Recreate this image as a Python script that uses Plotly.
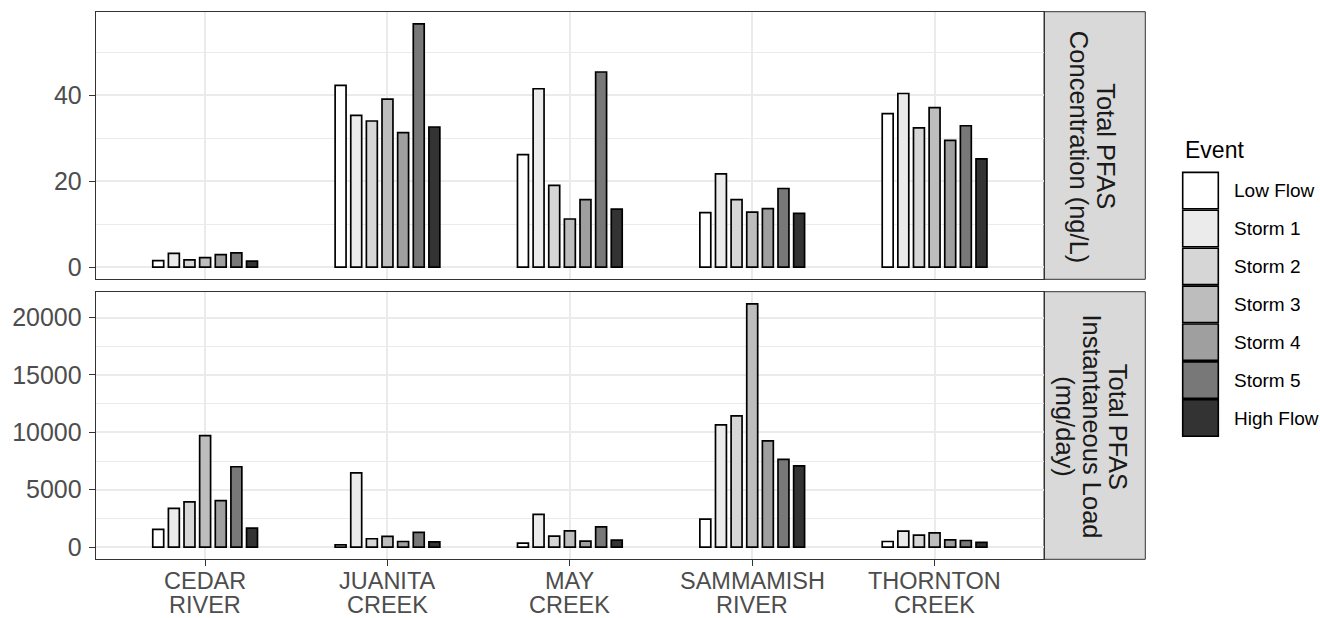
import plotly.graph_objects as go

# Sampling sites (x categories) and sampling events (bar groups)
sites = ["CEDAR RIVER", "JUANITA CREEK", "MAY CREEK", "SAMMAMISH RIVER", "THORNTON CREEK"]
events = ["Low Flow", "Storm 1", "Storm 2", "Storm 3", "Storm 4", "Storm 5", "High Flow"]
event_fills = ["#FFFFFF", "#EBEBEB", "#D6D6D6", "#BDBDBD", "#9F9F9F", "#787878", "#333333"]

# Total PFAS concentration (ng/L), one list per event, ordered as `sites`
conc_low_flow = [1.5, 42.3, 26.2, 12.7, 35.7]
conc_storm_1 = [3.2, 35.3, 41.5, 21.7, 40.4]
conc_storm_2 = [1.7, 34.0, 19.0, 15.7, 32.4]
conc_storm_3 = [2.2, 39.1, 11.2, 12.8, 37.1]
conc_storm_4 = [2.9, 31.3, 15.7, 13.6, 29.5]
conc_storm_5 = [3.3, 56.6, 45.4, 18.3, 32.9]
conc_high_flow = [1.4, 32.6, 13.5, 12.5, 25.2]

# Total PFAS instantaneous load (mg/day), one list per event, ordered as `sites`
load_low_flow = [1540, 200, 350, 2440, 490]
load_storm_1 = [3370, 6470, 2850, 10650, 1390]
load_storm_2 = [3950, 730, 960, 11440, 1050]
load_storm_3 = [9720, 930, 1420, 21190, 1250]
load_storm_4 = [4060, 490, 520, 9260, 640]
load_storm_5 = [7000, 1280, 1770, 7640, 580]
load_high_flow = [1660, 460, 610, 7080, 410]

concentration = [conc_low_flow, conc_storm_1, conc_storm_2, conc_storm_3,
                 conc_storm_4, conc_storm_5, conc_high_flow]
load = [load_low_flow, load_storm_1, load_storm_2, load_storm_3,
        load_storm_4, load_storm_5, load_high_flow]

conc_ticks = [0, 20, 40]
conc_minor = [10, 30, 50]
load_ticks = [0, 5000, 10000, 15000, 20000]
load_minor = [2500, 7500, 12500, 17500]

facet_labels = [["Total PFAS", "Concentration (ng/L)"],
                ["Total PFAS", "Instantaneous Load", "(mg/day)"]]

# ---- page geometry (pixels) ----
W, H = 1320, 618
FONT = "Liberation Sans, Arial, Helvetica, sans-serif"


def fx(px):
    return px / W


def fy(py):
    return 1 - py / H


PANEL_L, PANEL_R = 95.7, 1044.0
STRIP_R = 1145.3
PANELS = [(11.7, 279.3), (291.7, 559.3)]

fig = go.Figure()

for i, ev in enumerate(events):
    style = dict(
        name=ev,
        marker=dict(color=event_fills[i], line=dict(color="#000000", width=1.7)),
        showlegend=False,
        hovertemplate="%{x}<br>" + ev + ": %{y}<extra></extra>",
    )
    fig.add_trace(go.Bar(x=sites, y=concentration[i], xaxis="x", yaxis="y", **style))
    fig.add_trace(go.Bar(x=sites, y=load[i], xaxis="x2", yaxis="y2", **style))


def padded(values):
    top = max(max(v) for v in values)
    return [-0.05 * top, 1.05 * top]


grid = dict(showgrid=True, gridcolor="#EBEBEB", gridwidth=1.6)
frame = dict(showline=True, mirror=True, linecolor="#333333", linewidth=1,
             zeroline=False, automargin=False)
tick_font = dict(family=FONT, size=25, color="#4D4D4D")

xbase = dict(type="category", categoryorder="array", categoryarray=sites,
             range=[-0.6, len(sites) - 0.4], domain=[fx(PANEL_L), fx(PANEL_R)],
             **grid, **frame)

fig.update_layout(
    width=W, height=H,
    margin=dict(l=0, r=0, t=0, b=0),
    paper_bgcolor="white", plot_bgcolor="white",
    barmode="group", bargap=0.4, bargroupgap=0.3,
    font=dict(family=FONT),
    xaxis=dict(**xbase, anchor="y", ticks="", showticklabels=False),
    xaxis2=dict(**xbase, anchor="y2", matches="x", ticks="outside", ticklen=6,
                tickcolor="#333333", tickwidth=1, showticklabels=False),
    yaxis=dict(domain=[fy(PANELS[0][1]), fy(PANELS[0][0])], anchor="x",
               range=padded(concentration), tickmode="array", tickvals=conc_ticks,
               tickformat="d",
               ticks="outside", ticklen=6, tickcolor="#333333", tickwidth=1,
               tickfont=tick_font, ticklabelstandoff=2,
               minor=dict(tickmode="array", tickvals=conc_minor, showgrid=True,
                          gridcolor="#EBEBEB", gridwidth=0.8, ticks=""),
               **grid, **frame),
    yaxis2=dict(domain=[fy(PANELS[1][1]), fy(PANELS[1][0])], anchor="x2",
                range=padded(load), tickmode="array", tickvals=load_ticks,
                tickformat="d",
                ticks="outside", ticklen=6, tickcolor="#333333", tickwidth=1,
                tickfont=tick_font, ticklabelstandoff=2,
                minor=dict(tickmode="array", tickvals=load_minor, showgrid=True,
                           gridcolor="#EBEBEB", gridwidth=0.8, ticks=""),
                **grid, **frame),
)

shapes = []
annotations = []

# Two-line site names under the lower panel
for s in sites:
    for j, word in enumerate(s.split(" ")):
        annotations.append(dict(
            x=s, xref="x2", y=fy(580.5 + 24.5 * j), yref="paper",
            text=word, showarrow=False, xanchor="center", yanchor="middle",
            borderpad=0,
            font=dict(family=FONT, size=23.5, color="#4D4D4D"),
        ))

# Facet strips on the right of each panel
LINE_PITCH = 26.7
for (top, bottom), lines in zip(PANELS, facet_labels):
    shapes.append(dict(type="rect", xref="paper", yref="paper",
                       x0=fx(PANEL_R), x1=fx(STRIP_R), y0=fy(bottom), y1=fy(top),
                       fillcolor="#D9D9D9", line=dict(color="#333333", width=1),
                       layer="below"))
    n = len(lines)
    for j, txt in enumerate(lines):
        cx = 1092.0 + (n - 1) / 2 * LINE_PITCH - j * LINE_PITCH
        annotations.append(dict(
            x=fx(cx), xref="paper", y=fy((top + bottom) / 2 + 1), yref="paper",
            text=txt, textangle=90, showarrow=False,
            xanchor="center", yanchor="middle", borderpad=0,
            font=dict(family=FONT, size=25.5, color="#1A1A1A"),
        ))

# Event legend
KEY_L, KEY_R = 1182.7, 1218.3
KEY_TOP, KEY_PITCH, KEY_H = 171.7, 37.9, 36.4
annotations.append(dict(
    x=fx(KEY_L), xref="paper", y=fy(150), yref="paper", text="Event",
    showarrow=False, xanchor="left", yanchor="middle",
    font=dict(family=FONT, size=23, color="#000000"),
))
for i, ev in enumerate(events):
    t = KEY_TOP + i * KEY_PITCH + 0.7
    shapes.append(dict(type="rect", xref="paper", yref="paper",
                       x0=fx(KEY_L), x1=fx(KEY_R), y0=fy(t + KEY_H), y1=fy(t),
                       fillcolor=event_fills[i], line=dict(color="#000000", width=1.6)))
    annotations.append(dict(
        x=fx(1231.7), xref="paper", y=fy(t + KEY_H / 2), yref="paper", text=ev,
        showarrow=False, xanchor="left", yanchor="middle",
        font=dict(family=FONT, size=19, color="#000000"),
    ))

fig.update_layout(shapes=shapes, annotations=annotations)

fig.write_html("out.html")
